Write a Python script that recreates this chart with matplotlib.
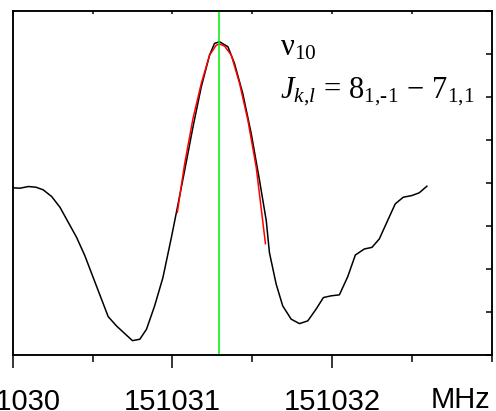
import numpy as np
import matplotlib
matplotlib.use('Agg')
import matplotlib.pyplot as plt

plt.rcParams['mathtext.fontset'] = 'custom'
plt.rcParams['mathtext.rm'] = 'Liberation Serif'
plt.rcParams['mathtext.it'] = 'Liberation Serif:italic'

# measured spectrum (MHz offset from 151030, arbitrary intensity)
freq_off = [0.000, 0.046, 0.098, 0.146, 0.191, 0.244, 0.296, 0.348, 0.400, 0.452,
            0.504, 0.556, 0.598, 0.650, 0.702, 0.750, 0.796, 0.838, 0.889, 0.941,
            0.994, 1.025, 1.077, 1.129, 1.181, 1.233, 1.264, 1.296, 1.348, 1.389,
            1.441, 1.494, 1.546, 1.588, 1.608, 1.650, 1.691, 1.744, 1.796, 1.848,
            1.900, 1.946, 1.994, 2.046, 2.098, 2.146, 2.202, 2.250, 2.296, 2.348,
            2.396, 2.446, 2.500, 2.546, 2.594]
signal = [3.888, 3.879, 3.918, 3.902, 3.841, 3.685, 3.436, 3.086, 2.736, 2.309,
          1.803, 1.299, 0.893, 0.676, 0.497, 0.334, 0.366, 0.599, 1.143, 1.803,
          2.736, 3.312, 4.292, 5.302, 6.235, 6.974, 7.247, 7.284, 7.168, 6.780,
          6.081, 5.148, 4.058, 3.125, 2.379, 1.649, 1.143, 0.833, 0.730, 0.793,
          1.066, 1.336, 1.376, 1.399, 1.819, 2.325, 2.465, 2.503, 2.699, 3.125,
          3.515, 3.669, 3.708, 3.772, 3.925]

# fitted line profile
fit_off = [1.031, 1.077, 1.129, 1.181, 1.233, 1.275, 1.296, 1.327, 1.369, 1.421,
           1.473, 1.525, 1.583]
fit_sig = [3.319, 4.448, 5.497, 6.314, 6.974, 7.207, 7.231, 7.184, 6.974, 6.314,
           5.458, 4.369, 2.589]

f0 = 151030
line_center = 151031.294
xticks = [151030, 151031, 151032]
xlabels = ['151030', '151031', '151032']

freq = f0 + np.array(freq_off)
fit_freq = f0 + np.array(fit_off)

fig = plt.figure(figsize=(4.96, 4.11), dpi=100)
ax = fig.add_axes([12.7/496, 1-355/411, 479/496, 344/411])

ax.plot(freq, signal, color='black', lw=1.1)
ax.plot(fit_freq, fit_sig, color='red', lw=1.1)
ax.axvline(line_center, color='#00ee00', lw=1.1)

ax.set_xlim(151030, 151033)
ax.set_ylim(0, 8)

ax.set_xticks(xticks)
ax.set_xticklabels(xlabels, fontsize=21, family='Liberation Sans')
ax.set_xticks([151030.5, 151031.5, 151032.5, 151033], minor=True)
ax.tick_params(axis='x', which='major', direction='out', length=9.5, width=1.1, pad=14)
ax.tick_params(axis='x', which='minor', direction='out', length=5, width=1.1)

ax.yaxis.tick_right()
ax.set_yticks(np.arange(0, 9, 1))
ax.tick_params(axis='y', which='major', direction='in', length=4, width=1.1,
               labelright=False, left=False)

# inward ticks along the top edge
top = ax.twiny()
top.set_xlim(ax.get_xlim())
top.set_xticks(np.arange(151030, 151033.01, 0.5))
top.tick_params(axis='x', direction='in', length=2.5, width=1.1, labeltop=False)

for a in (ax, top):
    for s in a.spines.values():
        s.set_visible(True)
        s.set_linewidth(1.1)
        s.set_zorder(5)

fig.text(490/496, 1-408/411, 'MHz', fontsize=21, family='Liberation Sans',
         ha='right', va='baseline')

ax.text(0.558, (355-55)/344, r'$\mathrm{\nu}_{\text{10}}$', transform=ax.transAxes,
        fontsize=22, va='baseline')
ax.text(0.558, (355-98.5)/344,
        r'$J_{k\text{,}l}\,=\,8_{\text{1,-1}}\,-\,7_{\text{1,1}}$',
        transform=ax.transAxes, fontsize=22, va='baseline')

fig.savefig('out.png', dpi=100)
